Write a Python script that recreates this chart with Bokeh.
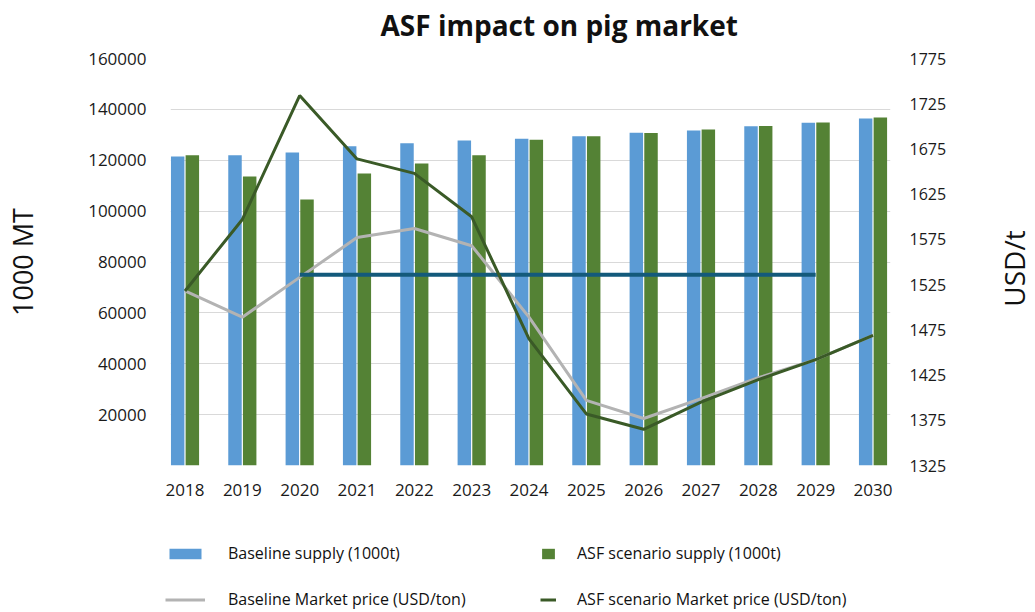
import math
from bokeh.plotting import figure
from bokeh.layouts import column, row
from bokeh.models import (Range1d, LinearAxis, FixedTicker, Legend, LegendItem,
                          ColumnDataSource, NumeralTickFormatter, Label)
from bokeh.embed import file_html
from bokeh.resources import INLINE
from bokeh.transform import dodge

years = [2018, 2019, 2020, 2021, 2022, 2023, 2024, 2025, 2026, 2027, 2028, 2029, 2030]
baseline_supply = [121500, 122000, 123000, 125500, 126700, 127800, 128500, 129400, 130800, 131700, 133400, 134700, 136400]
asf_supply = [122000, 113600, 104600, 114800, 118700, 122000, 128100, 129400, 130700, 132100, 133500, 134800, 136800]
baseline_price = [1518, 1489, 1533, 1577, 1587, 1568, 1489, 1397, 1377, 1399, 1422, 1442, 1469]
asf_price = [1518, 1597, 1734, 1664, 1648, 1600, 1465, 1382, 1365, 1395, 1420, 1442, 1469]
ref_years = [2020, 2029]
ref_price = [1536, 1536]
left_ticks = [0, 20000, 40000, 60000, 80000, 100000, 120000, 140000, 160000]
right_ticks = [1325, 1375, 1425, 1475, 1525, 1575, 1625, 1675, 1725, 1775]

src = ColumnDataSource(dict(year=years, base=baseline_supply, asf=asf_supply,
                            bprice=baseline_price, aprice=asf_price))

FONT = "Open Sans"
BLUE = "#5b9bd5"
GREEN = "#548235"
GRAY = "#b3b3b3"
DARK = "#3a5a27"
TEAL = "#135a7b"

W_MAIN = 990        # width of the chart column
W_SIDE = 45         # strip on the right holding the "USD/t" label
H_TITLE = 46
H_MAIN = 459
H_LEG = 107


def strip(width, height, xr, yr):
    f = figure(width=width, height=height, output_backend="svg", toolbar_location=None,
               min_border=0, x_axis_type=None, y_axis_type=None,
               x_range=Range1d(*xr), y_range=Range1d(*yr))
    f.outline_line_color = None
    return f


# ---- title strip
tf = strip(W_MAIN, H_TITLE, (0, W_MAIN), (H_TITLE, 0))
tf.add_layout(Label(x=380, y=24.5, text="ASF impact on pig market", text_font=FONT,
                    text_font_size="28px", text_font_style="bold", text_color="#111111",
                    text_align="left", text_baseline="middle"))

# ---- main chart
p = figure(width=W_MAIN, height=H_MAIN, output_backend="svg", toolbar_location=None,
           x_range=Range1d(2017.747, 2030.305), y_range=Range1d(0, 160000),
           min_border_left=170, min_border_right=W_MAIN - 890, min_border_top=12,
           min_border_bottom=40)
p.extra_y_ranges = {"price": Range1d(1325, 1775)}
p.outline_line_color = None

b1 = p.vbar(x=dodge("year", -0.128), top="base", width=0.235, source=src,
            fill_color=BLUE, line_color=None)
b2 = p.vbar(x=dodge("year", 0.128), top="asf", width=0.235, source=src,
            fill_color=GREEN, line_color=None)
p.line("year", "bprice", source=src, y_range_name="price", line_color=GRAY, line_width=3)
p.line(ref_years, ref_price, y_range_name="price", line_color=TEAL, line_width=4)
p.line("year", "aprice", source=src, y_range_name="price", line_color=DARK, line_width=3)

xa = p.xaxis[0]
xa.ticker = FixedTicker(ticks=years)
xa.axis_line_color = None
xa.major_tick_line_color = None
xa.major_tick_out = 0
xa.major_tick_in = 0
xa.minor_tick_line_color = None
xa.major_label_text_font = FONT
xa.major_label_text_font_size = "17px"
xa.major_label_text_color = "#1a1a1a"
xa.major_label_standoff = 18
p.xgrid.grid_line_color = None

ya = p.yaxis[0]
ya.ticker = FixedTicker(ticks=left_ticks)
ya.formatter = NumeralTickFormatter(format="0")
ya.major_label_overrides = {0: ""}
ya.axis_line_color = None
ya.major_tick_line_color = None
ya.major_tick_out = 0
ya.major_tick_in = 0
ya.minor_tick_line_color = None
ya.major_label_text_font = FONT
ya.major_label_text_font_size = "17px"
ya.major_label_text_color = "#1a1a1a"
ya.major_label_standoff = 24
ya.axis_label = "1000 MT"
ya.axis_label_text_font = FONT
ya.axis_label_text_font_size = "27px"
ya.axis_label_text_font_style = "normal"
ya.axis_label_text_color = "#111111"
ya.axis_label_standoff = 44
p.ygrid.grid_line_color = "#d9d9d9"
p.ygrid.grid_line_width = 1

ra = LinearAxis(y_range_name="price", ticker=FixedTicker(ticks=right_ticks))
ra.axis_line_color = None
ra.major_tick_line_color = None
ra.major_tick_out = 0
ra.major_tick_in = 0
ra.minor_tick_line_color = None
ra.major_label_text_font = FONT
ra.major_label_text_font_size = "16px"
ra.major_label_text_color = "#1a1a1a"
ra.major_label_standoff = 19
p.add_layout(ra, "right")

# ---- legend strip (legend proxies reuse the data, out of view)
lf = strip(W_MAIN, H_LEG, (0, 1), (0, 1))
lb1 = lf.vbar(x="year", top="base", width=0.1, source=src, fill_color=BLUE, line_color=None)
lb2 = lf.vbar(x="year", top="asf", width=0.1, source=src, fill_color=GREEN, line_color=None)
ll1 = lf.line("year", "bprice", source=src, line_color=GRAY, line_width=3)
ll2 = lf.line("year", "aprice", source=src, line_color=DARK, line_width=3)


def make_legend(items, loc, gw, standoff):
    return Legend(items=items, location=loc, orientation="vertical",
                  glyph_width=gw, glyph_height=13, label_height=22, spacing=24,
                  label_standoff=standoff, padding=0, margin=0,
                  border_line_color=None, background_fill_alpha=0,
                  label_text_font=FONT, label_text_font_size="16px",
                  label_text_color="#111111")


leg1 = make_legend([LegendItem(label="Baseline supply (1000t)", renderers=[lb1]),
                    LegendItem(label="Baseline Market price (USD/ton)", renderers=[ll1])],
                   (165, 2), 40, 23)
leg2 = make_legend([LegendItem(label="ASF scenario supply (1000t)", renderers=[lb2]),
                    LegendItem(label="ASF scenario Market price (USD/ton)", renderers=[ll2])],
                   (540, 2), 16, 21)
lf.add_layout(leg1, "center")
lf.add_layout(leg2, "center")

# ---- right strip with the secondary axis title
H_ALL = H_TITLE + H_MAIN + H_LEG
rf = strip(W_SIDE, H_ALL, (W_MAIN, W_MAIN + W_SIDE), (H_ALL, 0))
rf.add_layout(Label(x=1013, y=268, text="USD/t", text_font=FONT, text_font_size="28px",
                    text_color="#111111", angle=math.pi / 2,
                    text_align="center", text_baseline="middle"))

for fig in (tf, p, lf, rf):
    if "frame_align" in fig.properties():
        fig.frame_align = False

layout = row(column(tf, p, lf, spacing=0), rf, spacing=0)
open("out.html", "w").write(file_html(layout, INLINE))
